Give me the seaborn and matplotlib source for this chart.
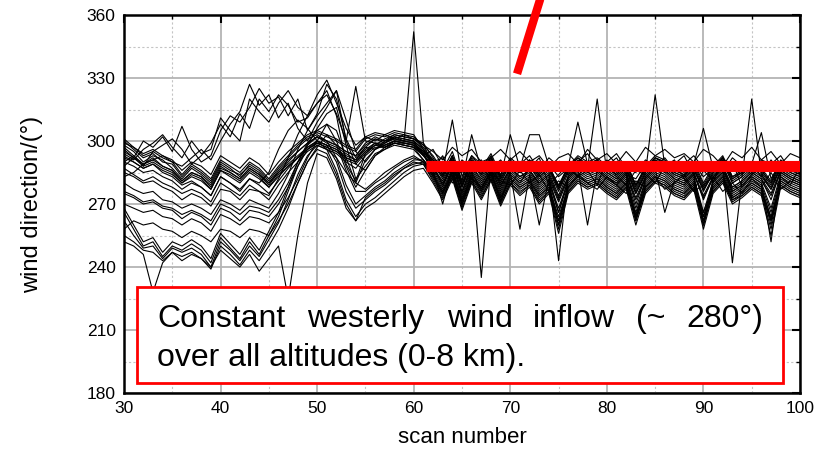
import numpy as np
import pandas as pd
import seaborn as sns
import matplotlib
matplotlib.use("Agg")
import matplotlib.pyplot as plt
from matplotlib.patches import Rectangle
from matplotlib.ticker import MultipleLocator
from matplotlib import font_manager

# ---------------- data ----------------
scans = list(range(30, 101))

# upper dense cluster
u1 = [300,296,292,294,290,289,283,288,285,281, 290,287,283,289,286,281,287,292,297,301,
      303,300,298,295,293,299,302,300,303,302, 301,297,291,284,293,280,291,285,292,282,
      290,286,289,283,287,277,286,291,288,290, 286,283,288,277,286,291,289,285,283,288,
      278,286,291,281,284,288,285,279,289,286,284]
u2 = [298,295,290,293,291,287,282,287,284,280, 289,286,284,288,285,280,286,291,295,299,
      302,299,297,294,291,297,301,299,302,301, 300,296,289,282,291,278,290,283,290,280,
      289,285,288,281,285,274,285,290,287,289, 285,282,287,275,285,290,288,284,282,287,
      276,285,290,280,283,287,284,277,288,285,283]
u3 = [301,297,293,295,292,290,284,289,286,282, 291,288,285,290,287,282,288,293,298,302,
      304,302,300,297,295,301,303,302,304,303, 302,298,293,286,295,281,293,287,294,284,
      292,288,291,285,288,279,288,293,290,292, 288,285,290,279,288,293,291,287,285,290,
      280,288,293,283,286,290,287,281,291,288,286]
u4 = [297,293,289,292,288,286,281,285,283,278, 287,285,282,287,284,279,285,289,293,297,
      300,298,296,292,290,295,299,298,300,300, 299,295,288,280,289,276,288,281,288,278,
      287,283,286,279,283,272,283,288,285,287, 283,280,285,273,283,288,286,282,280,285,
      274,283,288,278,281,285,282,275,286,283,281]
u5 = [299,297,294,296,293,291,286,290,288,284, 293,290,287,292,289,284,290,295,299,303,
      305,303,301,298,296,302,304,303,305,304, 303,296,290,292,285,289,288,291,284,290,
      286,285,291,284,289,283,287,283,290,285, 288,292,284,282,289,291,285,289,293,284,
      290,280,292,287,284,289,283,291,285,287,289]
u6 = [296,292,288,290,287,285,280,284,282,277, 286,284,281,286,283,278,284,288,292,296,
      299,297,295,291,289,294,298,297,299,299, 298,294,287,279,288,275,287,280,287,277,
      286,282,285,278,282,271,282,287,284,286, 282,279,284,272,282,287,285,281,279,284,
      273,282,287,277,280,284,281,274,285,282,280]

# middle spread
m1 = [292,290,287,289,285,283,279,281,278,274, 283,280,276,282,280,285,296,305,310,306,
      300,296,292,285,280,291,296,298,300,299, 298,293,288,279,290,276,288,282,289,279,
      287,283,286,280,284,273,283,288,285,287, 283,280,285,270,283,288,286,282,280,285,
      272,283,288,278,281,285,282,272,286,283,281]
m2 = [285,283,280,281,278,276,272,275,273,269, 277,276,272,277,276,274,282,292,303,312,
      318,322,313,300,289,286,293,297,299,298, 297,294,284,287,280,286,282,278,285,281,
      279,286,280,284,276,281,278,284,280,277, 283,279,275,281,278,283,277,280,284,276,
      279,283,276,280,275,282,278,285,277,281,279]
m3 = [280,277,275,276,272,271,268,270,268,265, 272,270,267,272,270,268,275,284,296,305,
      312,318,324,310,295,290,296,300,301,300, 299,294,286,278,289,274,286,279,287,276,
      285,281,284,277,281,268,281,286,283,285, 281,278,283,268,281,286,284,280,278,283,
      266,281,286,276,279,283,280,268,284,281,279]
m4 = [275,273,270,271,268,267,263,266,264,260, 268,266,262,267,266,264,270,278,288,298,
      306,313,316,298,282,288,294,296,299,298, 297,291,285,277,287,273,285,278,286,275,
      284,280,283,276,280,266,280,285,282,284, 280,277,282,266,280,285,283,279,277,282,
      264,280,285,275,278,282,279,266,283,280,278]
m5 = [270,268,266,267,264,263,260,263,261,257, 265,263,260,264,263,261,266,273,282,292,
      300,308,305,292,280,277,281,285,288,291, 293,290,284,276,286,272,284,277,285,274,
      283,279,282,275,279,262,279,284,281,283, 279,276,281,263,279,284,282,278,276,281,
      262,279,284,274,277,281,278,263,282,279,277]
m6 = [258,262,260,261,258,257,254,257,255,252, 258,257,254,258,257,255,262,270,280,290,
      297,303,298,286,276,276,280,283,287,290, 292,290,283,275,285,271,283,276,284,273,
      282,278,281,274,278,260,278,283,280,282, 278,275,280,262,278,283,281,277,275,280,
      260,278,283,273,276,280,277,260,281,278,276]

# low cluster
l1 = [266,258,250,252,245,250,248,251,248,242, 254,249,244,252,246,255,264,276,288,296,
      300,298,290,276,268,272,276,279,283,287, 289,290,283,275,284,270,282,275,283,272,
      281,277,280,273,277,262,277,282,279,281, 277,274,279,264,277,282,280,276,274,279,
      264,277,282,272,275,279,276,262,280,277,275]
l2 = [262,255,249,250,244,249,247,249,246,240, 252,248,243,250,245,253,261,272,284,293,
      298,296,286,272,264,270,273,277,281,285, 288,289,281,273,283,268,281,273,282,270,
      280,275,279,271,276,258,276,281,278,280, 276,273,278,262,276,281,279,275,273,278,
      260,276,281,271,274,278,275,258,279,276,274]
l3 = [268,260,252,254,247,252,250,253,250,244, 256,251,246,254,248,257,266,278,290,298,
      302,300,292,279,270,274,278,281,285,288, 291,291,284,276,285,272,283,276,284,273,
      282,278,281,274,278,264,278,283,280,282, 278,275,280,265,278,283,281,277,275,280,
      266,278,283,273,276,280,277,264,281,278,276]
l4 = [255,252,248,247,243,247,245,247,244,239, 250,246,241,248,243,250,258,268,280,290,
      296,294,284,270,262,268,271,275,279,283, 286,287,280,272,282,267,280,272,281,269,
      279,274,278,270,275,256,275,280,277,279, 275,272,277,260,275,280,278,274,272,277,
      258,275,280,270,273,277,274,255,278,275,273]
d1 = [252,250,246,228,242,247,243,246,244,240, 248,244,240,246,238,244,250,225,255,280,
      294,292,282,268,262,273,277,280,284,287, 290,289,282,274,283,270,281,274,282,271,
      280,276,279,272,276,260,276,281,278,280, 276,273,278,264,276,281,279,275,273,278,
      262,276,281,272,274,278,275,262,279,276,274]

# high wiggly lines
h1 = [294,291,296,299,303,297,292,300,294,296, 311,305,300,320,314,309,318,324,316,312,
      322,329,318,306,298,302,300,303,301,303, 301,298,295,291,297,293,296,290,292,296,
      291,295,290,293,287,292,294,289,296,291, 294,289,295,290,297,293,296,292,294,290,
      296,293,288,295,292,297,291,295,289,294,292]
h2 = [288,292,300,297,302,295,307,296,290,293, 305,312,309,316,325,318,321,312,320,305,
      313,327,320,301,292,297,296,299,302,300, 300,293,296,288,291,285,293,289,287,291,
      285,289,293,286,292,288,284,290,294,287, 290,294,287,285,291,288,292,286,289,293,
      287,290,285,292,288,284,291,289,293,286,290]
h3 = [283,285,289,291,293,290,288,292,296,291, 300,308,314,327,317,322,311,318,306,300,
      309,316,324,300,326,300,299,297,300,299, 299,295,289,283,293,279,291,284,292,282,
      290,285,289,283,287,278,287,292,288,290, 287,284,289,279,287,292,289,285,283,289,
      279,287,292,282,285,289,286,280,290,287,285]
h4 = [290,293,288,295,298,301,296,289,293,299, 308,302,313,306,320,314,322,317,309,311,
      318,324,312,289,281,294,298,301,303,302, 301,299,287,293,283,291,287,289,281,288,
      284,280,287,292,279,284,289,283,286,279, 291,283,279,286,284,280,288,291,282,276,
      286,281,285,290,278,284,287,290,283,279,288]

# lines carrying the spikes
s1 = [293,290,287,289,286,284,280,283,281,277, 286,283,280,285,282,278,283,288,292,297,
      300,298,296,293,291,296,299,299,301,300, 352,299,292,285,310,283,292,286,293,283,
      303,287,290,284,288,278,288,309,289,291, 287,284,289,278,287,292,290,286,284,289,
      306,287,292,282,285,289,286,280,290,287,285]
s2 = [287,284,281,283,280,278,275,277,275,271, 280,277,274,279,276,272,279,285,290,295,
      298,296,294,290,287,293,297,297,299,298, 297,293,287,281,290,278,289,235,289,279,
      287,283,286,280,284,243,284,289,286,288, 284,281,286,275,284,289,287,283,281,286,
      277,284,289,242,282,286,283,277,287,284,282]
s3 = [295,292,289,291,288,286,281,285,283,279, 288,285,282,287,284,280,285,290,295,299,
      302,300,298,295,293,298,301,300,302,301, 300,296,290,283,292,279,290,284,291,281,
      289,285,288,282,286,276,286,290,287,320, 285,282,287,276,285,322,288,284,282,287,
      277,285,290,280,283,320,284,278,288,285,283]
s4 = [276,274,271,272,269,268,265,267,265,262, 270,268,265,269,268,266,272,280,290,299,
      305,308,300,288,278,286,293,296,298,297, 296,291,286,270,287,269,285,277,286,271,
      285,258,284,260,282,266,282,287,260,286, 282,279,284,263,282,287,266,281,279,284,
      260,282,287,276,279,283,280,252,285,282,280]
s5 = [290,288,285,286,283,281,277,280,278,274, 283,280,277,282,279,275,281,287,292,296,
      299,297,295,292,290,295,298,298,300,299, 298,295,291,284,293,281,303,286,292,283,
      291,287,303,303,288,278,288,292,289,291, 287,284,289,279,287,292,290,286,284,289,
      283,287,292,283,285,289,304,282,290,287,285]

profiles = [u1, u2, u3, u4, u5, u6, m1, m2, m3, m4, m5, m6,
            l1, l2, l3, l4, d1, h1, h2, h3, h4, s1, s2, s3, s4, s5]

mean_direction = 288          # red reference level
highlight_start = 61.3        # scan where the red level starts
arrow_from = (70.7, 332)      # lower end of red slanted stroke
arrow_to = (73.6, 375)        # upper end (outside the axes)

x_ticks = [30, 40, 50, 60, 70, 80, 90, 100]
y_ticks = [180, 210, 240, 270, 300, 330, 360]
note_line1 = ["Constant", "westerly", "wind", "inflow", "(~", "280°)"]
note_line2 = "over all altitudes (0-8 km)."

rows = []
for i, prof in enumerate(profiles):
    for s, v in zip(scans, prof):
        rows.append((i, s, v))
df = pd.DataFrame(rows, columns=["level", "scan", "direction"])

# ---------------- plot ----------------
sns.set_theme(style="white")
plt.rcParams["font.family"] = ["Liberation Sans", "DejaVu Sans"]
plt.rcParams.update({"text.color": "black", "axes.labelcolor": "black",
                     "xtick.color": "black", "ytick.color": "black"})

W, H = 826, 450
fig = plt.figure(figsize=(W / 100, H / 100), dpi=100)
ax_l, ax_r, ax_t, ax_b = 124, 800, 15, 393
ax = fig.add_axes([ax_l / W, (H - ax_b) / H, (ax_r - ax_l) / W, (ax_b - ax_t) / H])

sns.lineplot(data=df, x="scan", y="direction", units="level", estimator=None,
             color="black", linewidth=0.8, ax=ax, legend=False, zorder=3)

ax.set_xlim(30, 100)
ax.set_ylim(180, 360)
ax.xaxis.set_major_locator(MultipleLocator(10))
ax.xaxis.set_minor_locator(MultipleLocator(5))
ax.yaxis.set_major_locator(MultipleLocator(30))
ax.yaxis.set_minor_locator(MultipleLocator(15))
ax.set_xticks(x_ticks)
ax.set_yticks(y_ticks)

ax.grid(which="major", color="#b4b4b4", linewidth=1.3, linestyle="-", zorder=0)
ax.grid(which="minor", color="#c4c4c4", linewidth=0.8, linestyle=(0, (2, 2)), zorder=0)
ax.set_axisbelow(True)

ax.tick_params(which="major", direction="in", length=6, width=1.5, top=True, right=True,
               labelsize=12.5, pad=6, colors="black")
ax.tick_params(which="minor", direction="in", length=3, width=1, top=True, right=True)
for side in ["left", "bottom", "top", "right"]:
    ax.spines[side].set_color("black")
    ax.spines[side].set_linewidth(1.8)
    ax.spines[side].set_visible(True)

narrow = "Liberation Sans Narrow"
avail = {f.name for f in font_manager.fontManager.ttflist}
ylab_family = [narrow, "DejaVu Sans"] if narrow in avail else ["Liberation Sans", "DejaVu Sans"]
ax.set_ylabel("wind direction/(°)", fontsize=17, family=ylab_family)
ax.yaxis.set_label_coords(-0.12, 0.5)
ax.set_xlabel("scan number", fontsize=16, labelpad=8)

# red reference level
ax.plot([highlight_start, 100], [mean_direction, mean_direction], color="red",
        linewidth=8, solid_capstyle="butt", zorder=5)
ax.plot([arrow_from[0], arrow_to[0]], [arrow_from[1], arrow_to[1]], color="red",
        linewidth=6, solid_capstyle="butt", zorder=5, clip_on=False)

# annotation box
bx0, bx1, by0, by1 = 137, 783, 287, 383
box = Rectangle((bx0 / W, 1 - by1 / H), (bx1 - bx0) / W, (by1 - by0) / H,
                transform=fig.transFigure, facecolor="white", edgecolor="red",
                linewidth=2, zorder=10)
fig.add_artist(box)
word_x = [157, 307, 447, 533, 636, 686]
for wx, wtxt in zip(word_x, note_line1):
    fig.text(wx / W, 1 - 327 / H, wtxt, fontsize=23, ha="left", va="baseline",
             color="black", zorder=11)
fig.text(157 / W, 1 - 366 / H, note_line2, fontsize=23, ha="left", va="baseline",
         color="black", zorder=11)

fig.savefig("out.png", dpi=100)
